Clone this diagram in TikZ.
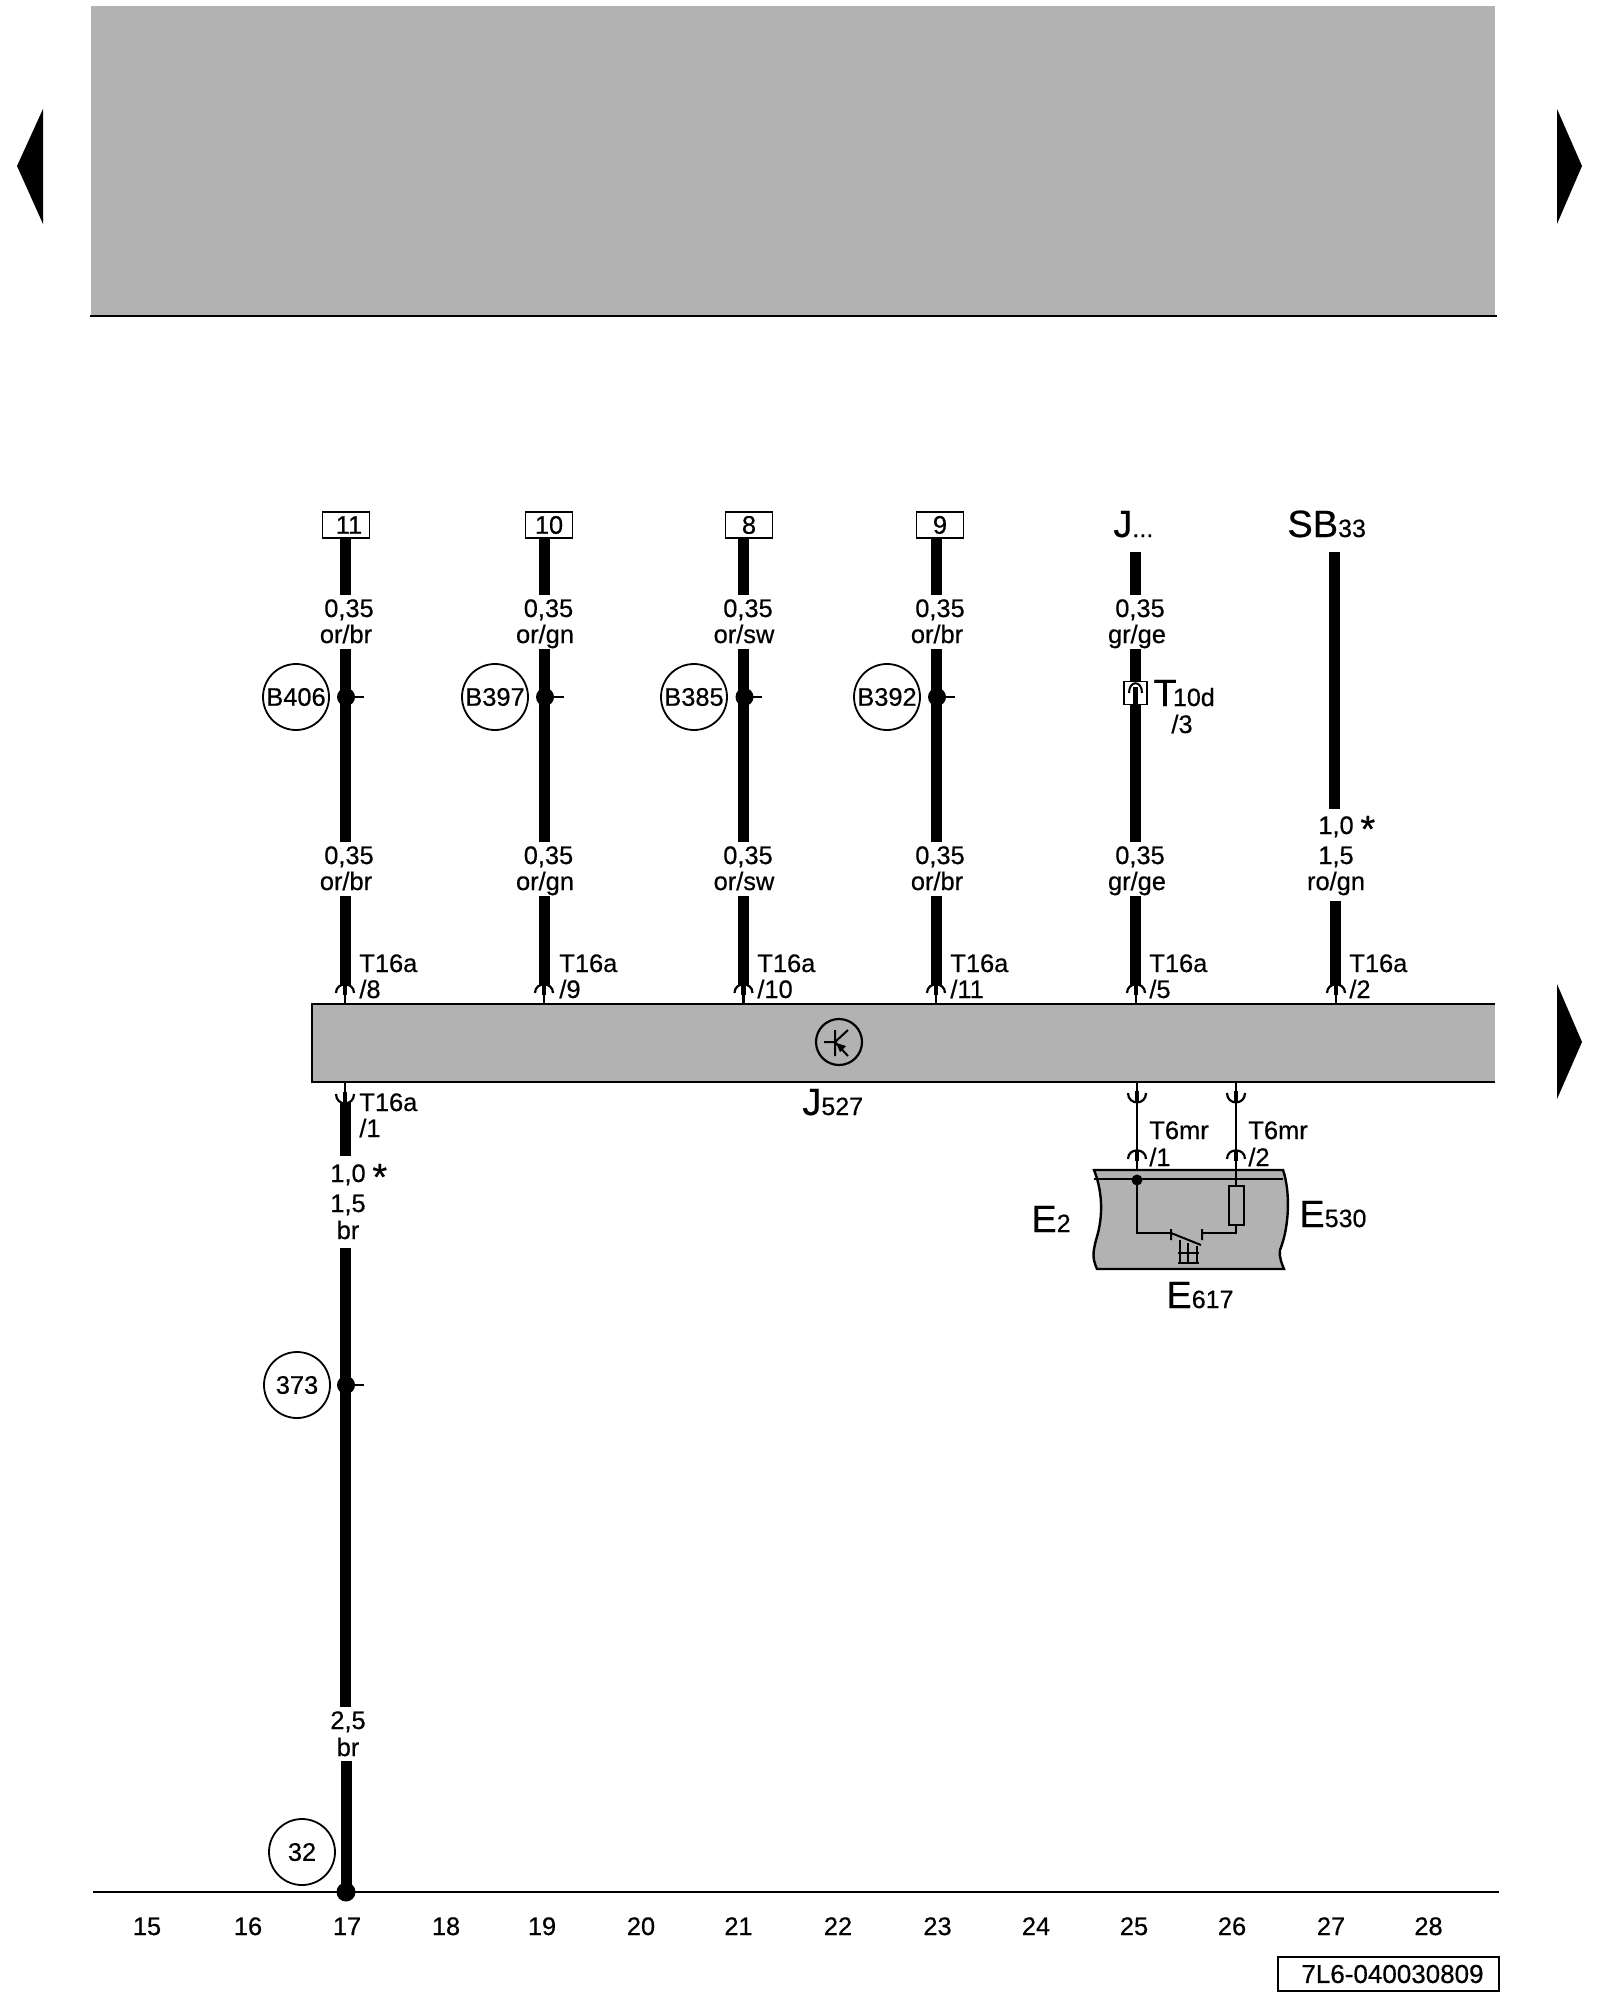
\documentclass[tikz,border=0pt]{standalone}
\usepackage{fontspec}
\setmainfont{Liberation Sans}[BoldFont={Liberation Sans},BoldFeatures={FakeBold=0.5}]
\definecolor{panel}{HTML}{B2B2B2}
\tikzset{
  wire/.style={line width=5.5pt,line cap=butt},
  thin wire/.style={line width=1.2pt},
  hair/.style={line width=1pt},
  lab/.style={inner sep=0pt,font=\fontsize{12.7}{14}\selectfont\bfseries},
  big/.style={inner sep=0pt,anchor=base west,font=\bfseries},
  tag/.style={draw,line width=0.9pt,fill=white,inner sep=0pt,minimum width=23.5pt,minimum height=13pt,font=\fontsize{12.7}{14}\selectfont\bfseries},
  disc/.style={circle,draw,line width=0.9pt,fill=white,inner sep=0pt,minimum size=33pt,font=\fontsize{12.7}{14}\selectfont\bfseries},
  dot/.style={circle,fill=black,inner sep=0pt,minimum size=9pt},
}
\newcommand\bigtext[2]{{\fontsize{19}{21}\selectfont #1}{\fontsize{12.5}{14}\selectfont #2}}
% a wire segment between two named coordinates
\newcommand\seg[5][wire]{\coordinate (#2a) at (#3,#4);\coordinate (#2b) at (#3,#5);\draw[#1] (#2a) -- (#2b);}
% connector opening downwards: arc top at y
\newcommand\sockup[2]{%
  \draw[line width=1.1pt] ({#1-9},{#2+9}) .. controls ({#1-9},{#2-2.5}) and ({#1+9},{#2-2.5}) .. ({#1+9},{#2+9});
  \draw[line width=2.1pt] (#1,{#2+1}) -- (#1,{#2+11});
  \draw[line width=1.1pt] (#1,{#2+11}) -- (#1,{#2+21});}
% connector opening upwards: arc bottom at y
\newcommand\sockdown[2]{%
  \draw[line width=1.1pt] ({#1-9},{#2-10}) .. controls ({#1-9},{#2+2.5}) and ({#1+9},{#2+2.5}) .. ({#1+9},{#2-10});
  \draw[line width=2.1pt] (#1,{#2-2}) -- (#1,{#2-12});
  \draw[line width=1.1pt] (#1,{#2-12}) -- (#1,{#2-22});}
\begin{document}
\begin{tikzpicture}[x=0.5pt,y=-0.5pt]
\useasboundingbox[fill=white] (0,0) rectangle (1600,2000);
% header
\fill[panel] (91,6) rectangle (1495,316);
\draw[thin wire] (90,316) -- (1497,316);
\fill (17,166) -- (43,109) -- (43,224) -- cycle;
\fill (1582,166) -- (1557,109) -- (1557,224) -- cycle;
\fill (1582,1042) -- (1557,984) -- (1557,1099) -- cycle;
% control unit
\draw[thin wire,fill=panel] (1495,1004) -- (312,1004) -- (312,1082) -- (1495,1082);
\node[circle,draw,line width=1.1pt,inner sep=0pt,minimum size=23pt] (tr) at (839,1042) {};
\draw[line width=1pt] (824,1042) -- (835,1042) (835,1030) -- (835,1056) (835,1042) -- (848,1030) (835,1042) -- (848,1056);
\fill (836,1043) -- (846,1046) -- (840,1052) -- cycle;
\node[big] (j527) at (802,1115) {\bigtext{J}{527}};
% ground line
\draw[thin wire] (93,1892) -- (1499,1892);
% column 1
\node[tag] (t11) at (346,525) {\raisebox{-0.5pt}{\hspace*{3pt}11}};
\seg{a1}{345}{538}{595}
\node[lab,anchor=base] (a1x) at (349,617) {0,35};
\node[lab,anchor=base] (a1y) at (346,643) {or/br};
\seg{a2}{345}{649}{842}
\node[lab,anchor=base] (a2x) at (349,864) {0,35};
\node[lab,anchor=base] (a2y) at (346,890) {or/br};
\seg{a3}{345}{896}{985}
\node[disc] (d406) at (296,697) {B406};
\node[dot] (p1) at (346,697) {};
\draw[line width=1pt] (p1.center) -- (364,697);
\sockup{345}{984}
\node[lab,anchor=base west] (a4) at (359,972) {T16a};
\node[lab,anchor=base west] (a5) at (359,998) {/8};
% column 2
\node[tag] (t10) at (549,525) {10};
\seg{b1}{544}{538}{595}
\node[lab,anchor=base] (b1x) at (548.5,617) {0,35};
\node[lab,anchor=base] (b1y) at (545,643) {or/gn};
\seg{b2}{544}{649}{842}
\node[lab,anchor=base] (b2x) at (548.5,864) {0,35};
\node[lab,anchor=base] (b2y) at (545,890) {or/gn};
\seg{b3}{544}{896}{985}
\node[disc] (d397) at (495,697) {B397};
\node[dot] (p2) at (545,697) {};
\draw[line width=1pt] (p2.center) -- (564,697);
\sockup{544}{984}
\node[lab,anchor=base west] (b4) at (559,972) {T16a};
\node[lab,anchor=base west] (b5) at (559,998) {/9};
% column 3
\node[tag] (t8) at (749,525) {8};
\seg{c1}{743.5}{538}{595}
\node[lab,anchor=base] (c1x) at (748,617) {0,35};
\node[lab,anchor=base] (c1y) at (744,643) {or/sw};
\seg{c2}{743.5}{649}{842}
\node[lab,anchor=base] (c2x) at (748,864) {0,35};
\node[lab,anchor=base] (c2y) at (744,890) {or/sw};
\seg{c3}{743.5}{896}{985}
\node[disc] (d385) at (694,697) {B385};
\node[dot] (p3) at (744.5,697) {};
\draw[line width=1pt] (p3.center) -- (762,697);
\sockup{743.5}{984}
\node[lab,anchor=base west] (c4) at (757,972) {T16a};
\node[lab,anchor=base west] (c5) at (757,998) {/10};
% column 4
\node[tag] (t9) at (940,525) {9};
\seg{d1}{936}{538}{595}
\node[lab,anchor=base] (d1x) at (940,617) {0,35};
\node[lab,anchor=base] (d1y) at (937,643) {or/br};
\seg{d2}{936}{649}{842}
\node[lab,anchor=base] (d2x) at (940,864) {0,35};
\node[lab,anchor=base] (d2y) at (937,890) {or/br};
\seg{d3}{936}{896}{985}
\node[disc] (d392) at (887,697) {B392};
\node[dot] (p4) at (937,697) {};
\draw[line width=1pt] (p4.center) -- (955,697);
\sockup{936}{984}
\node[lab,anchor=base west] (d4) at (950,972) {T16a};
\node[lab,anchor=base west] (d5) at (950,998) {/11};
% column 5
\node[big] (jj) at (1113,537) {\bigtext{J}{...}};
\seg{e1}{1135.5}{552}{595}
\node[lab,anchor=base] (e1x) at (1140,617) {0,35};
\node[lab,anchor=base] (e1y) at (1137,643) {gr/ge};
\seg{e2}{1135.5}{649}{842}
\node[lab,anchor=base] (e2x) at (1140,864) {0,35};
\node[lab,anchor=base] (e2y) at (1137,890) {gr/ge};
\seg{e3}{1135.5}{896}{985}
\node[draw,line width=0.9pt,fill=white,inner sep=0pt,minimum size=11.5pt] (t10d) at (1135.5,693) {};
\draw[line width=1pt] (1129,693) .. controls (1129,680) and (1142,680) .. (1142,693);
\draw[line width=2.1pt] (1135.5,687) -- (1135.5,705);
\node[big] (t10dl) at (1153,706) {\bigtext{T\kern-1.8pt}{10d}};
\node[lab,anchor=base] (t10ds) at (1182,733) {/3};
\sockup{1136}{984}
\node[lab,anchor=base west] (e4) at (1149,972) {T16a};
\node[lab,anchor=base west] (e5) at (1149,998) {/5};
% column 6
\node[big] (sb) at (1287,537) {\bigtext{SB}{33}};
\seg{f1}{1334}{552}{809}
\node[lab,anchor=base] (f1x) at (1336,834) {1,0};
\node[anchor=base west,inner sep=0pt,font=\fontsize{19}{21}\selectfont\bfseries] (f1s) at (1360,842) {*};
\node[lab,anchor=base] (f1y) at (1336,864) {1,5};
\node[lab,anchor=base] (f1z) at (1336,890) {ro/gn};
\seg{f2}{1335.5}{901}{985}
\sockup{1336}{984}
\node[lab,anchor=base west] (f4) at (1349,972) {T16a};
\node[lab,anchor=base west] (f5) at (1349,998) {/2};
% ground wire
\sockdown{345}{1104}
\seg{g1}{345}{1103}{1156}
\node[lab,anchor=base west] (g4) at (359,1111) {T16a};
\node[lab,anchor=base west] (g5) at (359,1137) {/1};
\node[lab,anchor=base] (g1x) at (348,1182) {1,0};
\node[anchor=base west,inner sep=0pt,font=\fontsize{19}{21}\selectfont\bfseries] (g1s) at (372,1190) {*};
\node[lab,anchor=base] (g1y) at (348,1212) {1,5};
\node[lab,anchor=base] (g1z) at (348,1239) {br};
\seg{g2}{345.5}{1248}{1707}
\node[disc] (d373) at (297,1385) {373};
\node[dot] (p5) at (346,1385) {};
\draw[line width=1pt] (p5.center) -- (364,1385);
\node[lab,anchor=base] (g2x) at (348,1729) {2,5};
\node[lab,anchor=base] (g2y) at (348,1756) {br};
\seg{g3}{346}{1761}{1892}
\node[disc] (d32) at (302,1852) {32};
\node[dot,minimum size=9.5pt] (p6) at (346,1892) {};
% E2 block
\draw[thin wire,fill=panel] (1094,1170) -- (1283,1170) .. controls (1290,1190) and (1290,1225) .. (1280,1250) .. controls (1279,1258) and (1282,1264) .. (1284,1269) -- (1097,1269) .. controls (1092,1258) and (1093,1252) .. (1096,1240) .. controls (1104,1215) and (1102,1190) .. (1094,1170) -- cycle;
\draw[thin wire] (1094,1179) -- (1283,1179);
\sockdown{1137}{1103}
\sockdown{1236}{1103}
\seg[thin wire]{h1}{1137}{1103}{1150}
\seg[thin wire]{h2}{1236}{1103}{1150}
\sockup{1137}{1150}
\sockup{1236}{1150}
\node[circle,fill=black,inner sep=0pt,minimum size=5.5pt] (p7) at (1137,1180) {};
\node[draw,line width=1pt,fill=panel,inner sep=0pt,minimum width=7.5pt,minimum height=19.5pt] (res) at (1236,1205.5) {};
\draw[line width=1pt] (1236,1170) -- (res.north) (res.south) -- (1236,1233) -- (1202,1233);
\draw[line width=1pt] (p7.center) -- (1137,1233) -- (1171,1233);
\draw[line width=1pt] (1171,1229) -- (1171,1240) (1202,1229) -- (1202,1240) (1171,1233) -- (1201,1245);
\draw[line width=0.7pt] (1180,1240) -- (1180,1263) (1188,1243) -- (1188,1263) (1197,1246) -- (1197,1263) (1178,1253) -- (1199,1253) (1178,1263) -- (1199,1263);
\node[lab,anchor=base west] (m1) at (1149,1139) {T6mr};
\node[lab,anchor=base west] (m2) at (1149,1166) {/1};
\node[lab,anchor=base west] (m3) at (1248,1139) {T6mr};
\node[lab,anchor=base west] (m4) at (1248,1166) {/2};
\node[big] (e2l) at (1031,1232) {\bigtext{E}{2}};
\node[big] (e530) at (1299,1227) {\bigtext{E}{530}};
\node[big] (e617) at (1166,1308) {\bigtext{E}{617}};
% column numbers
\foreach \n/\x in {15/147,16/248,17/347,18/446,19/542,20/641,21/738.5,22/838,23/937.5,24/1036,25/1134,26/1232,27/1331,28/1428.5}
  \node[lab,anchor=base] (n\n) at (\x,1935) {\n};
% reference box
\node[draw,line width=1pt,fill=white,inner sep=0pt,minimum width=110.5pt,minimum height=17pt,font=\fontsize{13}{14}\selectfont\bfseries] (ref) at (1388.5,1974) {\hspace*{4pt}7L6-040030809};
\end{tikzpicture}
\end{document}
